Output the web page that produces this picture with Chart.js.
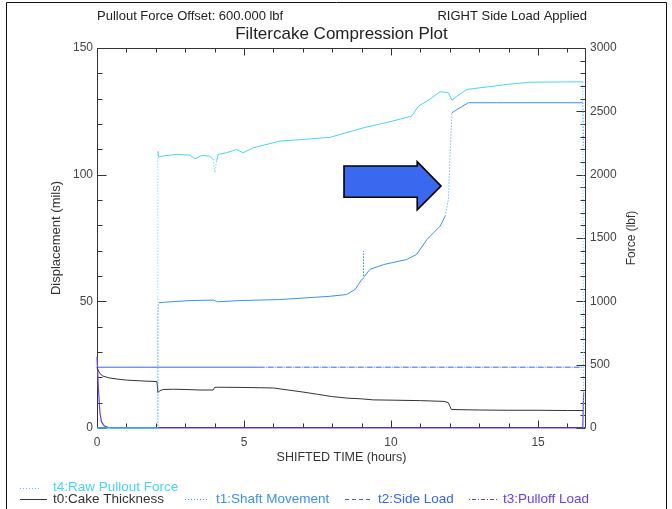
<!DOCTYPE html>
<html>
<head>
<meta charset="utf-8">
<script src="https://cdn.jsdelivr.net/npm/chart.js@4.4.1/dist/chart.umd.min.js"></script>
<style>
  html, body { margin: 0; padding: 0; background: #fff; }
  #wrap { width: 672px; height: 509px; }
</style>
</head>
<body>
<div id="wrap"><canvas id="plot" width="672" height="509"></canvas></div>
<script>
// time in hours, displacement in mils (left axis), force in lbf (right axis)
const cakeTime = [0, 0.05, 0.1, 0.2, 0.4, 0.7, 1.0, 1.5, 2.04, 2.07, 2.12, 2.25, 2.6, 3.0, 3.5, 3.95, 4.0, 4.1, 5.0, 6.0, 6.5, 7.0, 7.5, 8.0, 8.5, 9.0, 9.4, 10.0, 11.0, 11.8, 11.95, 12.05, 13.0, 14.0, 15.0, 16.0, 16.53];
const cakeThickness = [24, 22.5, 21.5, 20.5, 19.8, 19.3, 18.9, 18.6, 18.3, 14.0, 14.6, 15.2, 15.3, 15.2, 15.0, 15.0, 16.0, 16.1, 16.0, 15.8, 15.0, 14.2, 13.3, 12.4, 11.8, 11.5, 11.1, 11.0, 10.8, 10.5, 10.0, 7.3, 7.1, 7.0, 7.0, 6.9, 6.9];

const shaftTime = [0, 2.05, 2.07, 2.1, 2.25, 3.16, 3.96, 4.1, 4.86, 6.22, 7.93, 8.49, 8.78, 9.0, 9.05, 9.06, 9.07, 9.28, 9.74, 10.53, 10.87, 11.22, 11.67, 11.84, 11.95, 12.0, 12.07, 12.24, 12.63, 13.59, 16.52, 16.55];
const shaftMove = [0, 0, 45, 49.4, 49.6, 50.3, 50.5, 49.8, 50.3, 50.7, 52.0, 52.7, 54.7, 58.6, 59, 69.8, 59.5, 62.6, 64.5, 66.5, 68.5, 74.4, 79.7, 83.6, 90.2, 106, 124.4, 125.7, 128.4, 128.4, 128.4, 110.7];

const rawTime = [0, 2.05, 2.07, 2.1, 2.2, 2.7, 3.16, 3.33, 3.56, 3.84, 3.95, 4.01, 4.07, 4.12, 4.4, 4.75, 4.97, 5.31, 6.22, 7.0, 7.93, 9.06, 10.0, 10.7, 10.93, 11.22, 11.67, 11.95, 12.07, 12.24, 12.58, 13.94, 14.73, 16.52, 16.55];
const rawForce = [0, 0, 2185, 2140, 2146, 2160, 2154, 2125, 2152, 2146, 2120, 2015, 2110, 2160, 2173, 2199, 2173, 2212, 2265, 2278, 2295, 2370, 2420, 2462, 2541, 2580, 2655, 2647, 2588, 2620, 2673, 2712, 2730, 2733, 0];

const sideTime = [0, 5.5, 16.53];
const sideLoad = [480, 480, 480];

const pullTime = [0, 0.05, 0.1, 0.15, 0.25, 0.4, 0.6, 16.52, 16.55];
const pullLoad = [560, 300, 120, 50, 15, 3, 0, 0, 280];

const timeTickLabels = [0, 5, 10, 15];
const dispTickLabels = [0, 50, 100, 150];
const forceTickLabels = [0, 500, 1000, 1500, 2000, 2500, 3000];

const FONT = "'Liberation Sans', Arial, sans-serif";

function pairs(xs, ys) {
  return xs.map((x, i) => ({ x: x, y: ys[i] }));
}

// near-vertical jumps are drawn dotted, as in the original plot
function steepDots(ctx) {
  const dx = Math.abs(ctx.p1.x - ctx.p0.x);
  const dy = Math.abs(ctx.p1.y - ctx.p0.y);
  return (dy > 8 && dy > dx * 3) ? [1, 2] : undefined;
}

const datasets = [
  {
    label: 't4:Raw Pullout Force', data: pairs(rawTime, rawForce), yAxisID: 'yForce',
    borderColor: '#45d4ff', borderWidth: 1, segment: { borderDash: steepDots }
  },
  {
    label: 't0:Cake Thickness', data: pairs(cakeTime, cakeThickness), yAxisID: 'yDisp',
    borderColor: '#333333', borderWidth: 1
  },
  {
    label: 't1:Shaft Movement', data: pairs(shaftTime, shaftMove), yAxisID: 'yDisp',
    borderColor: '#3a8fff', borderWidth: 1, segment: { borderDash: steepDots }
  },
  {
    label: 't2:Side Load', data: pairs(sideTime, sideLoad), yAxisID: 'yForce',
    borderColor: '#3563ff', borderWidth: 1,
    segment: { borderDash: ctx => ctx.p0.parsed.x >= 5 ? [6, 1, 1, 1] : undefined }
  },
  {
    label: 't3:Pulloff Load', data: pairs(pullTime, pullLoad), yAxisID: 'yForce',
    borderColor: '#6a3cff', borderWidth: 1.2
  }
];

const legendRows = [
  { i: 0, x: 20, w: 20, tx: 53, y: 487.5, dash: [1, 2] },
  { i: 1, x: 20, w: 27, tx: 53, y: 499, dash: [] },
  { i: 2, x: 185, w: 22, tx: 216, y: 499, dash: [1, 2] },
  { i: 3, x: 345, w: 26, tx: 378, y: 499, dash: [4, 3] },
  { i: 4, x: 469, w: 28, tx: 503, y: 499, dash: [1, 2, 4, 2] }
];

// plot box and inward tick marks, under the data lines
const axisBox = {
  id: 'axisBox',
  beforeDatasetsDraw(chart) {
    const { ctx, chartArea: a, scales } = chart;
    const sx = scales.x, sl = scales.yDisp, sr = scales.yForce;
    const L = Math.round(a.left) + 0.5, R = Math.round(a.right) - 0.5;
    const T = Math.round(a.top) + 0.5, B = Math.round(a.bottom) - 0.5;
    ctx.save();
    ctx.strokeStyle = '#333';
    ctx.lineWidth = 1;
    ctx.setLineDash([]);
    ctx.beginPath();
    ctx.rect(L, T, R - L, B - T);
    sx.ticks.forEach(t => {
      const px = Math.round(sx.getPixelForValue(t.value)) + 0.5;
      const len = t.value % 5 === 0 ? 7 : 4;
      ctx.moveTo(px, B); ctx.lineTo(px, B - len);
      ctx.moveTo(px, T); ctx.lineTo(px, T + len);
    });
    sl.ticks.forEach(t => {
      const py = Math.round(sl.getPixelForValue(t.value)) + 0.5;
      const len = t.value % 50 === 0 ? 9 : 5;
      ctx.moveTo(L, py); ctx.lineTo(L + len, py);
    });
    sr.ticks.forEach(t => {
      const py = Math.round(sr.getPixelForValue(t.value)) + 0.5;
      const len = t.value % 500 === 0 ? 9 : 5;
      ctx.moveTo(R, py); ctx.lineTo(R - len, py);
    });
    ctx.stroke();
    ctx.restore();
  }
};

const decorations = {
  id: 'decorations',
  afterDraw(chart) {
    const { ctx, chartArea: a, scales } = chart;
    const sx = scales.x, sl = scales.yDisp;
    ctx.save();

    // outer page frame
    ctx.strokeStyle = '#111';
    ctx.lineWidth = 1;
    ctx.beginPath();
    ctx.moveTo(6.5, 509); ctx.lineTo(6.5, 2.5); ctx.lineTo(666.5, 2.5); ctx.lineTo(666.5, 509);
    ctx.stroke();

    // header and title
    ctx.fillStyle = '#222';
    ctx.textBaseline = 'middle';
    ctx.font = '13px ' + FONT;
    ctx.textAlign = 'left';
    ctx.fillText('Pullout Force Offset: 600.000 lbf', a.left, 16);
    ctx.textAlign = 'right';
    ctx.fillText('RIGHT Side Load Applied', a.right + 1, 16);
    ctx.textAlign = 'center';
    ctx.font = '17px ' + FONT;
    ctx.fillText('Filtercake Compression Plot', (a.left + a.right) / 2, 34);

    // axis titles
    ctx.fillStyle = '#333';
    ctx.font = '12.5px ' + FONT;
    ctx.fillText('SHIFTED TIME (hours)', (a.left + a.right) / 2, 458);
    const midY = (a.top + a.bottom) / 2;
    ctx.save();
    ctx.translate(56, midY); ctx.rotate(-Math.PI / 2);
    ctx.font = '13px ' + FONT;
    ctx.fillText('Displacement (mils)', 0, 0);
    ctx.restore();
    ctx.save();
    ctx.translate(632, midY); ctx.rotate(-Math.PI / 2);
    ctx.font = '12px ' + FONT;
    ctx.fillText('Force (lbf)', 0, 0);
    ctx.restore();

    // legend
    ctx.font = '13.5px ' + FONT;
    ctx.textAlign = 'left';
    legendRows.forEach(r => {
      const ds = chart.data.datasets[r.i];
      ctx.strokeStyle = ds.borderColor;
      ctx.fillStyle = ds.borderColor;
      ctx.setLineDash(r.dash);
      ctx.beginPath();
      ctx.moveTo(r.x, Math.round(r.y) + 0.5); ctx.lineTo(r.x + r.w, Math.round(r.y) + 0.5);
      ctx.stroke();
      ctx.setLineDash([]);
      ctx.fillText(ds.label, r.tx, r.y);
    });

    // highlight arrow, placed in data units (hours, mils)
    const arrow = [[8.4, 103.4], [10.89, 103.4], [10.89, 105.1], [11.7, 95.5],
                   [10.89, 86.1], [10.89, 91.1], [8.4, 91.1]];
    ctx.beginPath();
    arrow.forEach((p, k) => {
      const px = sx.getPixelForValue(p[0]), py = sl.getPixelForValue(p[1]);
      if (k === 0) ctx.moveTo(px, py); else ctx.lineTo(px, py);
    });
    ctx.closePath();
    ctx.fillStyle = '#3a68ee';
    ctx.fill();
    ctx.strokeStyle = '#000';
    ctx.lineWidth = 1.6;
    ctx.stroke();

    ctx.restore();
  }
};

const tickFont = { family: FONT, size: 12 };

new Chart(document.getElementById('plot'), {
  type: 'line',
  data: { datasets: datasets },
  options: {
    responsive: false,
    animation: false,
    devicePixelRatio: 1,
    layout: { padding: { top: 48, left: 0, right: 0, bottom: 0 } },
    elements: { point: { radius: 0 }, line: { tension: 0 } },
    datasets: { line: { clip: 4, fill: false } },
    plugins: { legend: { display: false }, tooltip: { enabled: false }, title: { display: false } },
    scales: {
      x: {
        type: 'linear', min: 0, max: 16.63,
        grid: { display: false, drawTicks: false }, border: { display: false },
        ticks: {
          stepSize: 1, includeBounds: false, autoSkip: false, maxRotation: 0, padding: 7,
          font: tickFont, color: '#444',
          callback: v => timeTickLabels.includes(v) ? String(v) : ''
        },
        afterFit: s => { s.height = 81; }
      },
      yDisp: {
        type: 'linear', position: 'left', min: 0, max: 150,
        grid: { display: false, drawTicks: false }, border: { display: false },
        ticks: {
          stepSize: 10, autoSkip: false, padding: 4, font: tickFont, color: '#444',
          callback: v => dispTickLabels.includes(v) ? String(v) : ''
        },
        afterFit: s => { s.width = 97; }
      },
      yForce: {
        type: 'linear', position: 'right', min: 0, max: 3000,
        grid: { display: false, drawTicks: false }, border: { display: false },
        ticks: {
          stepSize: 100, autoSkip: false, padding: 4, font: tickFont, color: '#444',
          callback: v => forceTickLabels.includes(v) ? String(v) : ''
        },
        afterFit: s => { s.width = 86; }
      }
    }
  },
  plugins: [axisBox, decorations]
});
</script>
</body>
</html>
